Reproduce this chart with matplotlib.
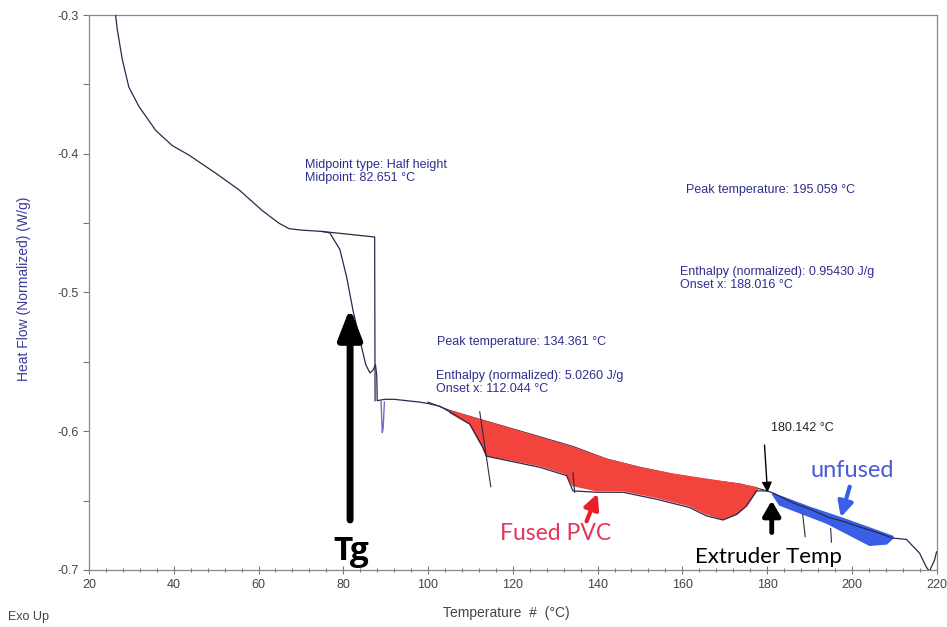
import numpy as np
import matplotlib
matplotlib.use('Agg')
import matplotlib.pyplot as plt
from matplotlib.ticker import MultipleLocator

# DSC trace (temperature in C, heat flow in W/g)
trace_t = [25.9, 26.3, 26.7, 27.85, 29.4, 31.8, 35.7, 39.6, 43.6, 49.9, 55.4, 60.9, 64.8, 67.2, 70.0, 75.0,
           76.8, 79.2, 80.8, 82.3, 83.9, 85.3, 86.3, 87.0, 87.6, 87.9, 88.0,
           89.8, 92.0, 95.0, 98.0, 100.0, 102.8, 105.1, 109.9, 113.0, 113.8, 118.5, 126.4, 132.7,
           134.2, 139.7, 146.0, 153.9, 161.7, 165.7, 169.6, 172.8, 175.1, 177.5, 180.1, 181.7,
           186.4, 190.0, 194.4, 198.0, 201.8, 206.0, 209.6, 212.9, 216.0, 217.6, 218.3, 219.5, 220.0]
trace_h = [-0.290, -0.301, -0.311, -0.332, -0.352, -0.366, -0.383, -0.394, -0.401, -0.414, -0.426, -0.441,
           -0.450, -0.454, -0.455, -0.456,
           -0.457, -0.469, -0.489, -0.513, -0.534, -0.552, -0.558, -0.556, -0.552, -0.560, -0.578,
           -0.577, -0.577, -0.578, -0.579, -0.580, -0.582, -0.586, -0.595, -0.612, -0.618, -0.621, -0.626,
           -0.632, -0.643, -0.644, -0.644, -0.649, -0.655, -0.661, -0.664, -0.660, -0.654, -0.643,
           -0.643, -0.645, -0.652, -0.656, -0.662, -0.665, -0.669, -0.673, -0.677, -0.678, -0.688,
           -0.698, -0.701, -0.693, -0.687]

# glass transition step line drawn by the software
step_t = [75.0, 87.4, 87.5]
step_h = [-0.456, -0.460, -0.578]
dip_t = [88.9, 89.2, 89.4, 89.7]
dip_h = [-0.578, -0.601, -0.598, -0.579]

# integration baseline over the fusion peak
base_t = [100.0, 105.1, 110.6, 118.5, 126.4, 134.2, 142.1, 149.9, 157.8, 165.7, 173.5, 177.5, 180.1]
base_h = [-0.579, -0.585, -0.590, -0.597, -0.604, -0.611, -0.620, -0.626, -0.631, -0.635, -0.638, -0.641, -0.643]

# onset tangents
tan1_t, tan1_h = [112.2, 114.8], [-0.586, -0.640]
tan2_t, tan2_h = [134.2, 134.6], [-0.630, -0.644]
tan3_t, tan3_h = [188.4, 189.0], [-0.660, -0.676]
tan4_t, tan4_h = [195.0, 195.2], [-0.670, -0.680]

# hand painted zones
red_up_t = [105.1, 110.6, 118.5, 126.4, 134.2, 142.1, 149.9, 157.8, 165.7, 173.5, 177.5]
red_up_h = [-0.5859, -0.5907, -0.5979, -0.6051, -0.6123, -0.6207, -0.6267, -0.6315, -0.6351, -0.6387, -0.6411]
red_lo_t = [105.1, 109.9, 113.0, 113.8, 118.5, 126.4, 132.7, 134.2, 139.7, 146.0, 153.9, 161.7, 165.7,
            169.6, 172.8, 175.1, 177.5]
red_lo_h = [-0.5859, -0.5943, -0.6111, -0.6171, -0.6195, -0.6243, -0.6303, -0.6387, -0.6423, -0.6423,
            -0.6472, -0.6532, -0.6591, -0.6627, -0.6591, -0.6532, -0.6423]
blue_up_t = [181.3, 190.0, 197.8, 204.2, 209.6]
blue_up_h = [-0.645, -0.655, -0.663, -0.670, -0.676]
blue_lo_t = [181.3, 183.0, 194.1, 204.2, 208.2, 209.6]
blue_lo_h = [-0.645, -0.653, -0.666, -0.682, -0.681, -0.677]

x_ticks = [20, 40, 60, 80, 100, 120, 140, 160, 180, 200, 220]
y_ticks = [-0.7, -0.6, -0.5, -0.4, -0.3]

ann_color = '#2e2e8e'
line_color = '#2a2a4a'


def polygon(up_t, up_h, lo_t, lo_h):
    xs = list(up_t) + list(lo_t)[::-1]
    ys = list(up_h) + list(lo_h)[::-1]
    return xs, ys


def draw_fig():
    fig = plt.figure(figsize=(9.47, 6.27), dpi=100)
    ax = fig.add_axes([0.094, 0.091, 0.895, 0.885])

    xs, ys = polygon(red_up_t, red_up_h, red_lo_t, red_lo_h)
    ax.fill(xs, ys, color='#f2433c', lw=2, ec='#f2433c', zorder=2)
    xs, ys = polygon(blue_up_t, blue_up_h, blue_lo_t, blue_lo_h)
    ax.fill(xs, ys, color='#3a5ee6', lw=1.5, ec='#3a5ee6', zorder=2)

    ax.plot(trace_t, trace_h, color=line_color, lw=0.9, zorder=3)
    ax.plot(step_t, step_h, color=line_color, lw=0.9, zorder=3)
    ax.plot(dip_t, dip_h, color='#7070c8', lw=1.0, zorder=3)
    ax.plot(base_t, base_h, color=line_color, lw=0.8, zorder=1)
    for tt, hh in [(tan1_t, tan1_h), (tan2_t, tan2_h), (tan3_t, tan3_h), (tan4_t, tan4_h)]:
        ax.plot(tt, hh, color=line_color, lw=0.8, zorder=3)

    ax.set_xlim(20, 220)
    ax.set_ylim(-0.7, -0.3)
    ax.set_xticks(x_ticks)
    ax.set_yticks(y_ticks)
    ax.set_yticklabels(['%.1f' % v for v in y_ticks])
    ax.xaxis.set_minor_locator(MultipleLocator(4))
    ax.yaxis.set_minor_locator(MultipleLocator(0.05))
    ax.tick_params(axis='x', which='both', direction='inout', colors='#777777', labelcolor='#444444',
                   labelsize=9, length=6, width=0.8)
    ax.tick_params(axis='x', which='minor', length=3)
    ax.tick_params(axis='y', which='both', direction='out', colors='#777777', labelcolor='#444444',
                   labelsize=9, length=4, width=0.8)
    for sp in ax.spines.values():
        sp.set_color('#888888')
        sp.set_linewidth(0.9)
    for lab in ax.get_xticklabels() + ax.get_yticklabels():
        lab.set_family('Liberation Sans')

    fnt = dict(family='Liberation Sans', fontsize=9, color=ann_color)
    ax.text(70.9, -0.413, 'Midpoint type: Half height\nMidpoint: 82.651 °C', va='center', linespacing=1.1, **fnt)
    ax.text(160.8, -0.426, 'Peak temperature: 195.059 °C', va='center', **fnt)
    ax.text(159.4, -0.490, 'Enthalpy (normalized): 0.95430 J/g\nOnset x: 188.016 °C', va='center',
            linespacing=1.1, **fnt)
    ax.text(102.1, -0.536, 'Peak temperature: 134.361 °C', va='center', **fnt)
    ax.text(101.9, -0.565, 'Enthalpy (normalized): 5.0260 J/g\nOnset x: 112.044 °C', va='center',
            linespacing=1.1, **fnt)
    ax.text(181.0, -0.598, '180.142 °C', va='center', family='Liberation Sans', fontsize=9, color='#222222')

    # hand annotations
    ax.annotate('', xy=(81.6, -0.511), xytext=(81.6, -0.664),
                arrowprops=dict(arrowstyle='-|>,head_width=0.35,head_length=0.9', lw=5, color='black',
                                mutation_scale=20, shrinkA=0, shrinkB=0))
    ax.text(81.8, -0.687, 'Tg', ha='center', va='center', family='Open Sans', fontweight='bold',
            fontsize=24, color='black')
    ax.annotate('', xy=(140.0, -0.645), xytext=(137.4, -0.665),
                arrowprops=dict(arrowstyle='-|>,head_width=0.3,head_length=0.6', lw=3, color='#e8202a',
                                mutation_scale=15, shrinkA=0, shrinkB=0))
    ax.text(130.1, -0.674, 'Fused PVC', ha='center', va='center', family='Lato', fontsize=16.5,
            color='#e8335a')
    ax.annotate('', xy=(181.1, -0.650), xytext=(181.1, -0.673),
                arrowprops=dict(arrowstyle='-|>,head_width=0.35,head_length=0.6', lw=3.5, color='black',
                                mutation_scale=15, shrinkA=0, shrinkB=0))
    ax.annotate('', xy=(180.1, -0.644), xytext=(179.4, -0.610),
                arrowprops=dict(arrowstyle='-|>,head_width=0.25,head_length=0.5', lw=1, color='black',
                                mutation_scale=12, shrinkA=0, shrinkB=0))
    ax.text(180.4, -0.691, 'Extruder Temp', ha='center', va='center', family='Lato', fontsize=16,
            color='black')
    ax.text(200.2, -0.628, 'unfused', ha='center', va='center', family='Lato', fontsize=17,
            color='#4a5bd6')
    ax.annotate('', xy=(197.4, -0.662), xytext=(199.5, -0.640),
                arrowprops=dict(arrowstyle='-|>,head_width=0.3,head_length=0.6', lw=3, color='#3a5ee6',
                                mutation_scale=15, shrinkA=0, shrinkB=0))

    fig.text(0.025, 0.539, 'Heat Flow (Normalized) (W/g)', rotation=90, ha='center', va='center',
             family='Liberation Sans', fontsize=10, color='#3a3a9a')
    fig.text(0.535, 0.022, 'Temperature  #  (°C)', ha='center', va='center', family='Liberation Sans',
             fontsize=10, color='#444444')
    fig.text(0.008, 0.016, 'Exo Up', ha='left', va='center', family='Liberation Sans', fontsize=9,
             color='#444444')

    plt.savefig('out.png', dpi=100)


if __name__ == '__main__':
    draw_fig()
